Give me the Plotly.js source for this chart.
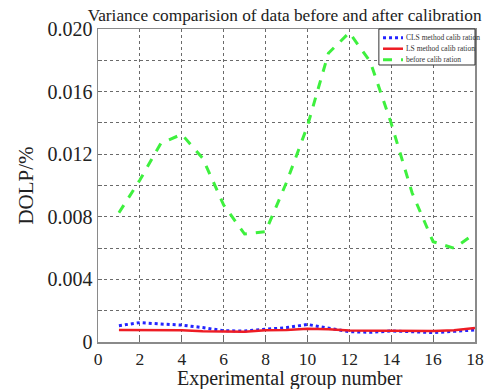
<!DOCTYPE html>
<html>
<head>
<meta charset="utf-8">
<script src="https://cdn.plot.ly/plotly-3.0.1.min.js"></script>
<style>html,body{margin:0;padding:0;background:#fff;}#chart{width:484px;height:389px;}</style>
</head>
<body>
<div id="chart"></div>
<script>
var groups = [1,2,3,4,5,6,7,8,9,10,11,12,13,14,15,16,17,18];
var clsValues = [0.00104,0.00124,0.00115,0.00108,0.00092,0.00072,0.00070,0.00081,0.00092,0.00112,0.00090,0.00066,0.00062,0.00070,0.00066,0.00060,0.00068,0.00077];
var lsValues = [0.00077,0.00077,0.00075,0.00075,0.00068,0.00066,0.00066,0.00075,0.00077,0.00085,0.00082,0.00073,0.00073,0.00070,0.00070,0.00070,0.00075,0.00090];
var beforeValues = [0.00826,0.01035,0.01270,0.01327,0.01174,0.00875,0.00690,0.00705,0.01020,0.01380,0.01845,0.01977,0.01791,0.01397,0.00952,0.00641,0.00599,0.00694];
var seriesNames = ["CLS method calib ration","LS method calib ration","before calib ration"];
var seriesColors = ["#2424ff","#ee1c24","#3ef03e"];
var seriesDash = ["dot","solid","dash"];
var yTickVals = [0,0.002,0.004,0.006,0.008,0.010,0.012,0.014,0.016,0.018,0.020];
var yTickText = ["0","","0.004","","0.008","","0.012","","0.016","","0.020"];
var xTickVals = [0,2,4,6,8,10,12,14,16,18];

var font = "Liberation Serif";
var seriesValues = [clsValues, lsValues, beforeValues];
var widths = [3, 2.5, 3];
var traces = seriesValues.map(function (vals, i) {
  return {x: groups, y: vals, name: seriesNames[i], mode: "lines", showlegend: false,
    line: {color: seriesColors[i], width: widths[i], dash: seriesDash[i]}};
});

// compact legend (matches the MATLAB-style legend box)
var legX0 = 0.745, legX1 = 1.0, legYTop = 1.0, legYBot = 0.885;
var rowY = [0.972, 0.937, 0.902];
var shapes = [{type: "rect", xref: "paper", yref: "paper", x0: legX0, x1: legX1, y0: legYBot, y1: legYTop,
  line: {color: "#333", width: 1}, fillcolor: "#fff", layer: "above"}];
var annotations = [];
seriesNames.forEach(function (name, i) {
  shapes.push({type: "line", xref: "paper", yref: "paper", x0: 0.756, x1: 0.809, y0: rowY[i], y1: rowY[i],
    line: {color: seriesColors[i], width: widths[i], dash: seriesDash[i]}, layer: "above"});
  annotations.push({xref: "paper", yref: "paper", x: 0.812, y: rowY[i], xanchor: "left", yanchor: "middle",
    text: name, showarrow: false, font: {family: font, size: 7.5, color: "#333"}});
});
// x-axis title placed as text under the tick labels
annotations.push({xref: "paper", yref: "paper", x: 0.51, y: -0.116, xanchor: "center", yanchor: "middle",
  text: "Experimental group number", showarrow: false, borderpad: 0, font: {family: font, size: 20, color: "#222"}});

var axisCommon = {
  showline: true, mirror: true, linecolor: "#8a8a8a", linewidth: 1.5,
  showgrid: true, gridcolor: "#6a6a6a", griddash: "dot", gridwidth: 1,
  zeroline: false, ticks: "inside", ticklen: 4, tickcolor: "#6a6a6a"
};
var layout = {
  width: 484, height: 389,
  margin: {l: 98, r: 9, t: 29, b: 47},
  paper_bgcolor: "#fff", plot_bgcolor: "#fff",
  title: {text: "Variance comparision of data before and after calibration", font: {family: font, size: 17.3, color: "#222"}, x: 0.588, xanchor: "center", y: 0.977, yanchor: "top"},
  xaxis: Object.assign({}, axisCommon, {range: [0, 18.0001], tickvals: xTickVals, ticklabeloverflow: "allow",
    tickfont: {family: font, size: 17.5, color: "#222"}}),
  yaxis: Object.assign({}, axisCommon, {range: [0, 0.02], tickvals: yTickVals, ticktext: yTickText,
    tickfont: {family: font, size: 20, color: "#222"},
    title: {text: "DOLP/%", font: {family: font, size: 21, color: "#222"}, standoff: 8}}),
  showlegend: false,
  shapes: shapes,
  annotations: annotations
};
Plotly.newPlot("chart", traces, layout, {displayModeBar: false, staticPlot: true});
</script>
</body>
</html>
